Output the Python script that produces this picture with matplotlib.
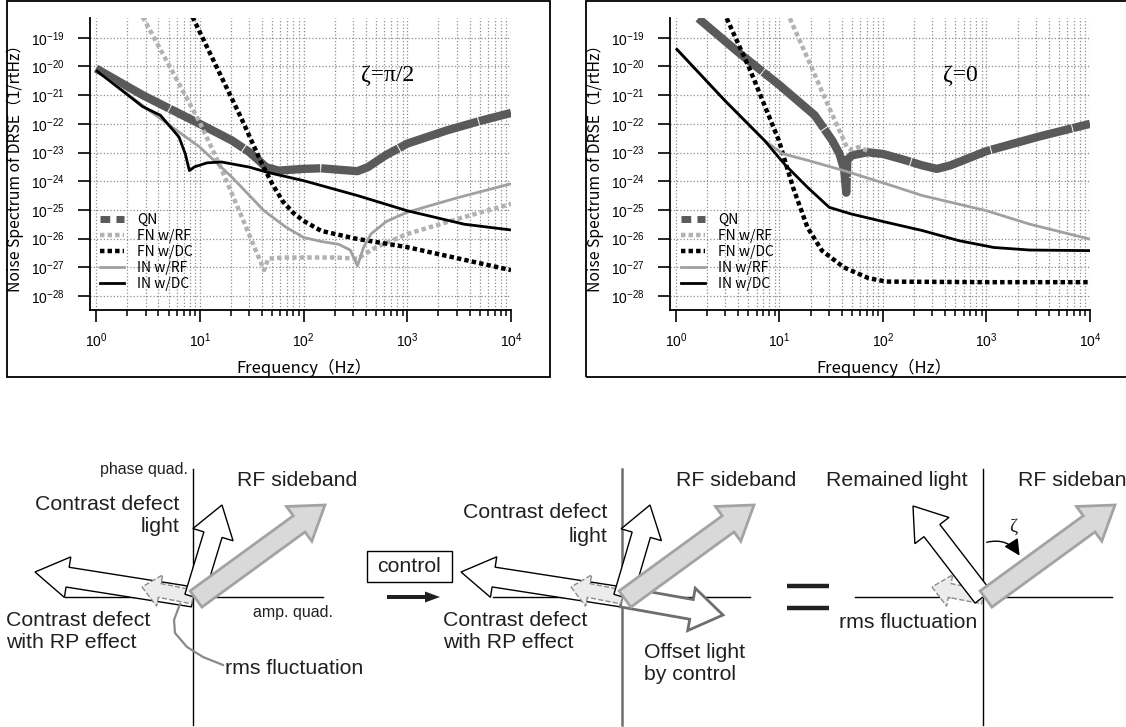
import numpy as np
import matplotlib.pyplot as plt
from matplotlib.patches import Rectangle, FancyArrow, FancyArrowPatch
from matplotlib.lines import Line2D
from matplotlib.ticker import FixedLocator, NullLocator, LogFormatterMathtext

plt.rcParams['font.family'] = ['Noto Sans CJK JP', 'DejaVu Sans']

W, H = 1126, 727

# ---- noise curves as (log10 f, log10 noise) ----
# zeta = pi/2 panel
qn_L_lf = [0, 0.45, 1.0, 1.31, 1.48, 1.64, 1.76, 2.0, 2.17, 2.34, 2.52, 2.62, 2.79, 3.0, 3.38, 3.72, 4.0]
qn_L_ly = [-20.07, -21.0, -22.0, -22.58, -22.99, -23.51, -23.63, -23.57, -23.55, -23.6, -23.65, -23.51, -23.1, -22.69, -22.23, -21.88, -21.62]
fnrf_L_lf = [0.45, 0.8, 1.0, 1.2, 1.4, 1.55, 1.62, 1.66, 1.8, 2.0, 2.3, 2.52, 2.7, 3.0, 3.5, 4.0]
fnrf_L_ly = [-18.27, -20.6, -21.95, -23.5, -25.2, -26.5, -27.1, -26.7, -26.66, -26.66, -26.66, -26.7, -26.3, -25.84, -25.3, -24.79]
fndc_L_lf = [0.93, 1.2, 1.4, 1.6, 1.7, 1.8, 1.9, 2.0, 2.17, 2.5, 3.0, 3.5, 4.0]
fndc_L_ly = [-18.27, -20.3, -21.8, -23.4, -24.1, -24.7, -25.1, -25.38, -25.73, -26.0, -26.3, -26.7, -27.1]
inrf_L_lf = [0, 0.5, 1.0, 1.31, 1.62, 1.83, 2.0, 2.17, 2.34, 2.45, 2.52, 2.58, 2.65, 2.8, 3.0, 3.5, 4.0]
inrf_L_ly = [-20.13, -21.5, -22.81, -23.86, -25.03, -25.6, -25.96, -26.1, -26.2, -26.4, -26.95, -26.3, -25.84, -25.4, -25.08, -24.56, -24.09]
indc_L_lf = [0, 0.45, 0.62, 0.8, 0.86, 0.9, 0.95, 1.07, 1.21, 1.48, 1.65, 2.0, 2.52, 3.0, 3.55, 4.0]
indc_L_ly = [-20.13, -21.4, -21.7, -22.46, -23.04, -23.63, -23.5, -23.36, -23.33, -23.51, -23.69, -23.98, -24.5, -25.03, -25.5, -25.7]

# zeta = 0 panel
qn_R_lf = [0.215, 0.6, 1.0, 1.34, 1.51, 1.58, 1.625, 1.645, 1.655, 1.7, 1.85, 2.0, 2.2, 2.38, 2.52, 2.65, 3.0, 3.5, 4.0]
qn_R_ly = [-18.32, -19.5, -20.65, -21.7, -22.58, -23.05, -23.6, -24.4, -23.25, -23.1, -22.99, -23.05, -23.25, -23.45, -23.57, -23.45, -22.95, -22.45, -22.0]
fnrf_R_lf = [1.10, 1.3, 1.45, 1.55, 1.65, 1.69, 1.76, 1.86]
fnrf_R_ly = [-18.32, -19.95, -21.2, -22.0, -22.81, -22.9, -22.81, -22.95]
fndc_R_lf = [0.49, 0.717, 0.994, 1.13, 1.27, 1.41, 1.62, 1.86, 2.03, 3.0, 4.0]
fndc_R_ly = [-18.32, -20.13, -22.58, -24.21, -25.61, -26.42, -27.0, -27.38, -27.5, -27.52, -27.52]
inrf_R_lf = [0, 0.47, 0.855, 1.03, 1.3, 1.62, 2.03, 2.38, 3.0, 3.42, 4.0]
inrf_R_ly = [-19.37, -21.18, -22.58, -23.04, -23.3, -23.63, -24.09, -24.5, -25.03, -25.5, -26.02]
indc_R_lf = [0, 0.47, 0.855, 1.0, 1.06, 1.27, 1.48, 1.69, 2.03, 2.38, 2.73, 3.07, 3.42, 4.0]
indc_R_ly = [-19.37, -21.18, -22.58, -23.2, -23.45, -24.21, -24.91, -25.14, -25.43, -25.72, -26.07, -26.31, -26.4, -26.42]

labels = ['QN', 'FN w/RF', 'FN w/DC', 'IN w/RF', 'IN w/DC']
x_decades = [1e0, 1e1, 1e2, 1e3, 1e4]
y_decades = [10.0 ** k for k in range(-28, -18)]

left_curves = [(qn_L_lf, qn_L_ly), (fnrf_L_lf, fnrf_L_ly), (fndc_L_lf, fndc_L_ly),
               (inrf_L_lf, inrf_L_ly), (indc_L_lf, indc_L_ly)]
right_curves = [(qn_R_lf, qn_R_ly), (fnrf_R_lf, fnrf_R_ly), (fndc_R_lf, fndc_R_ly),
                (inrf_R_lf, inrf_R_ly), (indc_R_lf, indc_R_ly)]

styles = [dict(color='#5a5a5a', lw=6, dashes=(10, 0.12)),
          dict(color='#b2b2b2', lw=3.2, dashes=(1, 0.7)),
          dict(color='black', lw=3.2, dashes=(1, 0.7)),
          dict(color='#a0a0a0', lw=2),
          dict(color='black', lw=2)]
leg_styles = [dict(color='#5a5a5a', lw=5, dashes=(1.4, 0.9)),
              dict(color='#b2b2b2', lw=3.2, dashes=(1, 0.7)),
              dict(color='black', lw=3.2, dashes=(1, 0.7)),
              dict(color='#a0a0a0', lw=2),
              dict(color='black', lw=2)]

fig = plt.figure(figsize=(W / 100, H / 100), dpi=100)


def px_axes(x0, y0, x1, y1):
    return fig.add_axes([x0 / W, 1 - y1 / H, (x1 - x0) / W, (y1 - y0) / H])


def noise_panel(x0, x1, dec, curves, zeta_txt, zeta_x, leg_x):
    ax = px_axes(x0, 18, x1, 310)
    for (lf, ly), st in zip(curves, styles):
        ax.plot(10 ** np.array(lf), 10 ** np.array(ly), solid_capstyle='butt', **st)
    ax.set_xscale('log')
    ax.set_yscale('log')
    ax.set_xlim(10 ** (-6 / dec), 1e4)
    ax.set_ylim(10 ** -28.49, 10 ** -18.31)
    ax.xaxis.set_major_locator(FixedLocator(x_decades))
    ax.xaxis.set_minor_locator(FixedLocator([m * d for d in x_decades[:-1] for m in range(2, 10)]))
    ax.yaxis.set_major_locator(FixedLocator(y_decades))
    ax.yaxis.set_minor_locator(NullLocator())
    ax.xaxis.set_major_formatter(LogFormatterMathtext())
    ax.yaxis.set_major_formatter(LogFormatterMathtext())
    ax.grid(True, which='both', axis='x', ls=':', color='#8c8c8c', lw=0.9)
    ax.grid(True, which='major', axis='y', ls=':', color='#8c8c8c', lw=0.9)
    for s in ['top', 'right']:
        ax.spines[s].set_visible(False)
    for s in ['left', 'bottom']:
        ax.spines[s].set_linewidth(1.3)
    ax.tick_params(which='major', length=8.5, width=1.2, direction='out', labelsize=10,
                   labelfontfamily='Liberation Sans')
    ax.tick_params(axis='x', which='major', pad=7)
    ax.tick_params(axis='y', which='major', pad=10)
    ax.tick_params(which='minor', length=4, width=1.1, direction='out', labelbottom=False)
    ax.set_xlabel('Frequency（Hz）', fontsize=12)
    ax.set_ylabel('Noise Spectrum of DRSE（1/rtHz）', fontsize=11.3)
    ax.xaxis.label.set_va('center')
    ax.yaxis.label.set_va('center')
    ax.xaxis.set_label_coords(0.5 + 4 / (x1 - x0), -58 / 292)
    ax.yaxis.set_label_coords(-75 / (x1 - x0), 0.5)
    fig.text(zeta_x / W, 1 - 75 / H, zeta_txt, family='Liberation Serif', fontsize=17,
             ha='center', va='center')
    handles = [Line2D([], [], **st) for st in leg_styles]
    ax.legend(handles, labels, loc='upper left', bbox_to_anchor=(leg_x / W, 1 - 213 / H),
              bbox_transform=fig.transFigure, frameon=False, fontsize=10,
              handlelength=1.75, handletextpad=0.9, labelspacing=0.15,
              borderpad=0, borderaxespad=0)
    return ax


noise_panel(90, 511, 103.75, left_curves, 'ζ=π/2', 388, 100)
noise_panel(670, 1090, 103.6, right_curves, 'ζ=0', 960, 681)

# panel frames
for fx0, fx1 in [(7, 550), (586, 1129)]:
    fig.add_artist(Rectangle((fx0 / W, 1 - 377 / H), (fx1 - fx0) / W, 376 / H,
                             transform=fig.transFigure, fill=False, ec='black', lw=1.3))

# ---- phasor diagrams ----
ax3 = fig.add_axes([0, 0, 1, 347 / H])
ax3.set_xlim(0, W)
ax3.set_ylim(H, 380)
ax3.axis('off')

origins = [(193, 597), (622, 597), (983, 597)]
txt_col = '#231f20'
big = 15.3
small = 11.5


def block(o, tip, w, hw, hl, fc, ec, lw, ls='-', z=3, tail=(0, 0)):
    x0, y0 = o[0] + tail[0], o[1] + tail[1]
    ax3.add_patch(FancyArrow(x0, y0, o[0] + tip[0] - x0, o[1] + tip[1] - y0, width=w,
                             head_width=hw, head_length=hl, length_includes_head=True,
                             fc=fc, ec=ec, lw=lw, ls=ls, zorder=z, joinstyle='miter'))


def quad_axes(o, xl, xr, vcol='black', vlw=1.0):
    ax3.plot([xl, xr], [o[1], o[1]], color='black', lw=1.0, zorder=2)
    ax3.plot([o[0], o[0]], [469, 725], color=vcol, lw=vlw, zorder=2)


def rf_arrow(o):
    block(o, (132, -92), 20, 43, 32, '#d9d9d9', '#a3a3a3', 2.0, z=6, tail=(3, 2))


def rms_arrow(o):
    block(o, (-51, -10), 14, 32, 18, '#ececec', '#8c8c8c', 1.0, ls='--', z=4.5)


def text(x, y, s, ha='left', size=big):
    ax3.text(x, y, s, fontsize=size, ha=ha, va='center', color=txt_col,
             family='Liberation Sans')


# diagram 1
o = origins[0]
quad_axes(o, 65, 323)
block(o, (-158, -25), 20, 41, 33, 'white', 'black', 1.0, z=4)
rms_arrow(o)
block(o, (29, -92), 19, 42, 31, 'white', 'black', 1.0, z=5, tail=(1, 0))
rf_arrow(o)
ax3.plot([180, 174, 175, 187, 203, 223], [604, 620, 633, 647, 657, 665], color='#8a8a8a', lw=1.6,
         zorder=7)
text(188, 469, 'phase quad.', ha='right', size=small)
text(253, 613, 'amp. quad.', size=small)
text(237, 480, 'RF sideband')
text(179, 504, 'Contrast defect', ha='right')
text(179, 527, 'light', ha='right')
text(6, 620, 'Contrast defect')
text(6, 643, 'with RP effect')
text(225, 668, 'rms fluctuation')

# control box and arrow
ax3.add_patch(Rectangle((367, 551), 85, 31, fill=False, ec='black', lw=1.0))
text(409.5, 567, 'control', ha='center')
ax3.add_patch(FancyArrow(387, 597, 53, 0, width=4, head_width=11, head_length=15,
                         length_includes_head=True, fc='#231f20', ec='none'))

# diagram 2
o = origins[1]
quad_axes(o, 493, 750, vcol='#6e6e6e', vlw=1.8)
block(o, (-161, -25), 20, 41, 33, 'white', 'black', 1.0, z=4)
rms_arrow(o)
block(o, (28, -92), 19, 42, 31, 'white', 'black', 1.0, z=5, tail=(1, 0))
block(o, (101, 18), 20, 43, 32, 'white', '#6e6e6e', 2.0, z=4)
rf_arrow(o)
text(676, 480, 'RF sideband')
text(607, 513, 'Contrast defect', ha='right')
text(607, 537, 'light', ha='right')
text(443, 620, 'Contrast defect')
text(443, 643, 'with RP effect')
text(644, 652, 'Offset light')
text(644, 675, 'by control')

# equals sign
ax3.plot([787, 829], [586, 586], color='#231f20', lw=3.2, solid_capstyle='butt')
ax3.plot([787, 829], [608, 608], color='#231f20', lw=3.2, solid_capstyle='butt')

# diagram 3
o = origins[2]
quad_axes(o, 855, 1112)
rms_arrow(o)
block(o, (-70, -91), 20, 43, 31, 'white', 'black', 1.0, z=5)
rf_arrow(o)
ax3.add_patch(FancyArrowPatch((984, 543), (1021, 558), connectionstyle='arc3,rad=-0.4',
                              arrowstyle='-|>,head_length=0.7,head_width=0.35',
                              mutation_scale=14, color='black', lw=1.0, zorder=8))
ax3.text(1013, 527, 'ζ', fontsize=14, ha='center', va='center', color=txt_col,
         family='Liberation Serif')
text(826, 480, 'Remained light')
text(1018, 480, 'RF sideband')
text(839, 623, 'rms fluctuation')

fig.savefig('out.png', dpi=100)
